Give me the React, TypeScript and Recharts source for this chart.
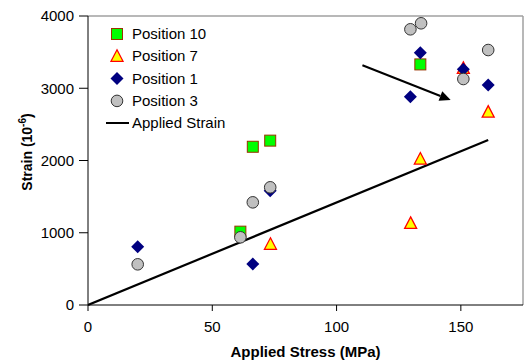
import React from 'react';
import { ScatterChart, Scatter, XAxis, YAxis, ReferenceLine, Legend } from 'recharts';

const pos10Stress = [61.3, 66.3, 73.3, 133.7];
const pos10Strain = [1015, 2190, 2275, 3330];
const pos7Stress = [73.4, 129.8, 133.7, 151, 161];
const pos7Strain = [840, 1130, 2020, 3275, 2670];
const pos1Stress = [20, 66.3, 73.3, 129.7, 133.7, 151, 161];
const pos1Strain = [805, 567, 1582, 2883, 3492, 3262, 3045];
const pos3Stress = [20, 61.3, 66.3, 73.3, 129.7, 134, 151, 161];
const pos3Strain = [563, 937, 1421, 1629, 3816, 3899, 3128, 3529];
const appliedStress = [0, 161];
const appliedStrain = [0, 2284];
const arrowStress = [110.4, 145.9];
const arrowStrain = [3318, 2837];
const xTicks = [0, 50, 100, 150];
const yTicks = [0, 1000, 2000, 3000, 4000];

const toPts = (xs: number[], ys: number[]) => xs.map((x, i) => ({ x, y: ys[i] }));

const FONT = '"Liberation Sans", Arial, sans-serif';

const Square = (p: any) => (
  <rect x={p.cx - 5.5} y={p.cy - 5.5} width={11} height={11} fill="#00FF00" stroke="#993300" strokeWidth={1} />
);
const Tri = (p: any) => (
  <polygon points={`${p.cx},${p.cy - 6.5} ${p.cx + 6},${p.cy + 5} ${p.cx - 6},${p.cy + 5}`} fill="#FFFF00" stroke="#FF0000" strokeWidth={1.3} />
);
const Diamond = (p: any) => (
  <polygon points={`${p.cx},${p.cy - 6.5} ${p.cx + 6.5},${p.cy} ${p.cx},${p.cy + 6.5} ${p.cx - 6.5},${p.cy}`} fill="#000080" />
);
const Circ = (p: any) => (
  <circle cx={p.cx} cy={p.cy} r={5.8} fill="#C0C0C0" stroke="#333" strokeWidth={1} />
);
const NoShape = () => <g />;

const Arrow = (p: any) => {
  const { x1, y1, x2, y2 } = p;
  const ang = Math.atan2(y2 - y1, x2 - x1);
  const L = 11, W = 5;
  const bx = x2 - L * Math.cos(ang), by = y2 - L * Math.sin(ang);
  const nx = -Math.sin(ang) * W, ny = Math.cos(ang) * W;
  return (
    <g>
      <line x1={x1} y1={y1} x2={bx} y2={by} stroke="#000" strokeWidth={2} />
      <polygon points={`${x2},${y2} ${bx + nx},${by + ny} ${bx - nx},${by - ny}`} fill="#000" />
    </g>
  );
};

const legendItems = [
  { name: 'Position 10', shape: Square },
  { name: 'Position 7', shape: Tri },
  { name: 'Position 1', shape: Diamond },
  { name: 'Position 3', shape: Circ },
];

const LegendContent = () => (
  <svg width={170} height={112} style={{ fontFamily: FONT }}>
    {legendItems.map((it, i) => {
      const cy = 12 + i * 22.3;
      const S = it.shape;
      return (
        <g key={it.name}>
          <S cx={17} cy={cy} />
          <text x={32} y={cy + 5} fontSize={15} fill="#000">{it.name}</text>
        </g>
      );
    })}
    <line x1={6} y1={101} x2={29} y2={101} stroke="#000" strokeWidth={2} />
    <text x={32} y={106} fontSize={15} fill="#000">Applied Strain</text>
  </svg>
);

const YLabel = () => (
  <text transform="translate(32,152) rotate(-90)" textAnchor="middle" fontSize={14} fontWeight="bold" fill="#000" fontFamily={FONT}>
    Strain (10<tspan dy={-6} fontSize={10}>-6</tspan><tspan dy={6}>)</tspan>
  </text>
);

export default function App() {
  return (
    <div style={{ position: 'absolute', left: 0, top: 0, width: 526, height: 364, background: '#fff' }}>
      <ScatterChart width={526} height={364} margin={{ top: 16, right: 3, bottom: 0, left: 0 }} style={{ fontFamily: FONT }}>
        <XAxis
          type="number"
          dataKey="x"
          domain={[0, 175]}
          ticks={xTicks}
          allowDataOverflow
          height={59}
          tickSize={6}
          tickMargin={10}
          stroke="#000"
          tick={{ fill: '#000', fontSize: 15 }}
          label={{ value: 'Applied Stress (MPa)', position: 'insideBottom', offset: 7, fill: '#000', fontSize: 15, fontWeight: 'bold' }}
        />
        <YAxis
          type="number"
          dataKey="y"
          domain={[0, 4000]}
          ticks={yTicks}
          width={88}
          tickSize={9}
          tickMargin={5}
          stroke="#000"
          tick={{ fill: '#000', fontSize: 15 }}
          label={<YLabel />}
        />
        <ReferenceLine y={4000} stroke="#a0a0a0" strokeWidth={1.5} />
        <ReferenceLine x={175} stroke="#a0a0a0" strokeWidth={1.5} />
        <Scatter data={toPts(appliedStress, appliedStrain)} line={{ stroke: '#000', strokeWidth: 2.2 }} shape={NoShape} isAnimationActive={false} legendType="none" />
        <Scatter name="Position 10" data={toPts(pos10Stress, pos10Strain)} shape={Square} isAnimationActive={false} />
        <Scatter name="Position 7" data={toPts(pos7Stress, pos7Strain)} shape={Tri} isAnimationActive={false} />
        <Scatter name="Position 1" data={toPts(pos1Stress, pos1Strain)} shape={Diamond} isAnimationActive={false} />
        <Scatter name="Position 3" data={toPts(pos3Stress, pos3Strain)} shape={Circ} isAnimationActive={false} />
        <ReferenceLine
          segment={[{ x: arrowStress[0], y: arrowStrain[0] }, { x: arrowStress[1], y: arrowStrain[1] }]}
          shape={Arrow}
        />
        <Legend layout="vertical" align="center" verticalAlign="middle" content={LegendContent} wrapperStyle={{ left: 100, top: 22, width: 170, height: 112 }} />
      </ScatterChart>
    </div>
  );
}
